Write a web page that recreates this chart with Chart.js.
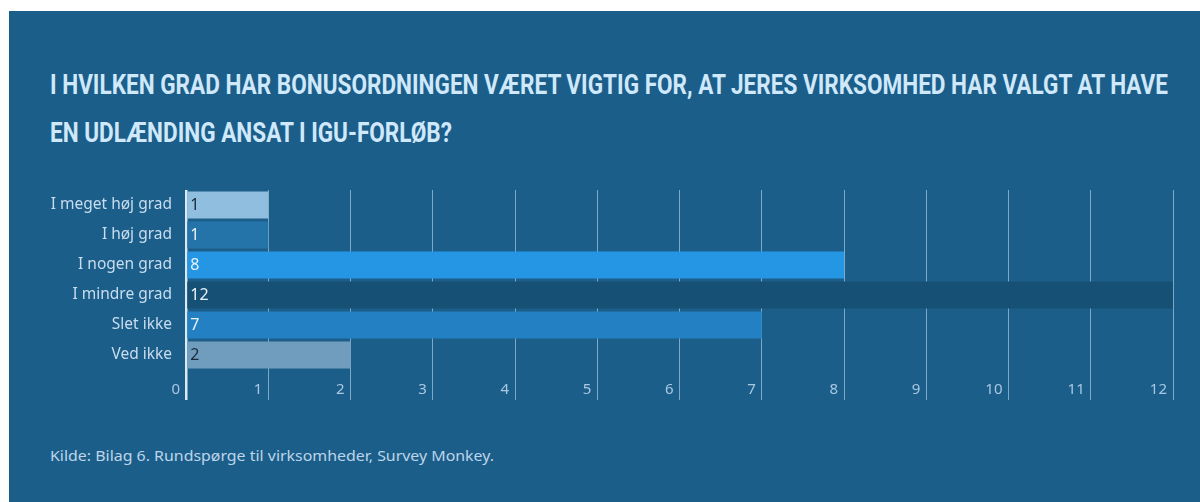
<!DOCTYPE html>
<html>
<head>
<meta charset="utf-8">
<script src="https://cdn.jsdelivr.net/npm/chart.js@4.4.1/dist/chart.umd.min.js"></script>
<style>
  html, body { margin: 0; padding: 0; background: #ffffff; width: 1200px; height: 502px; overflow: hidden; }
  #panel { position: absolute; left: 9px; top: 11px; width: 1191px; height: 491px; background: #1c5e8a; }
  .title { position: absolute; left: 50px; color: #cfe8fa; font-family: "Liberation Sans Narrow", "Roboto", sans-serif; font-weight: bold; font-size: 28px; white-space: nowrap; transform-origin: 0 0; line-height: 1; }
  #t1 { top: 71px; }
  #t2 { top: 119px; }
  #src { position: absolute; left: 50px; top: 445px; color: #bcd5e9; font-family: "Noto Sans", sans-serif; font-size: 15px; white-space: nowrap; transform-origin: 0 0; }
  #wrap { position: absolute; left: 9px; top: 185px; width: 1191px; height: 215px; }
</style>
</head>
<body>
<div id="panel"></div>
<div class="title" id="t1">I HVILKEN GRAD HAR BONUSORDNINGEN VÆRET VIGTIG FOR, AT JERES VIRKSOMHED HAR VALGT AT HAVE</div>
<div class="title" id="t2">EN UDLÆNDING ANSAT I IGU-FORLØB?</div>
<div id="src">Kilde: Bilag 6. Rundspørge til virksomheder, Survey Monkey.</div>
<div id="wrap"><canvas id="c" width="1191" height="215"></canvas></div>
<script>
const categories = ["I meget høj grad", "I høj grad", "I nogen grad", "I mindre grad", "Slet ikke", "Ved ikke"];
const values = [1, 1, 8, 12, 7, 2];
const barColors = ["#8fbedf", "#2474aa", "#2596e4", "#175075", "#2380c2", "#709dbe"];
const valueLabelColors = ["#1b2a38", "#e8f2fa", "#e8f2fa", "#e8f2fa", "#e8f2fa", "#1b2a38"];
const xTicks = [0, 1, 2, 3, 4, 5, 6, 7, 8, 9, 10, 11, 12];

(function () {
  const t1 = document.getElementById('t1');
  const t2 = document.getElementById('t2');
  const w = t1.getBoundingClientRect().width;
  const s = 1118 / w;
  t1.style.transform = 'scaleX(' + s + ')';
  t2.style.transform = 'scaleX(' + s + ')';
  const src = document.getElementById('src');
  const ws = src.getBoundingClientRect().width;
  src.style.transform = 'scaleX(' + (444 / ws) + ')';
})();

const valueLabels = {
  id: 'valueLabels',
  afterDatasetsDraw(chart) {
    const ctx = chart.ctx;
    const meta = chart.getDatasetMeta(0);
    ctx.save();
    ctx.font = '16px "Noto Sans", sans-serif';
    ctx.textAlign = 'left';
    ctx.textBaseline = 'middle';
    meta.data.forEach((bar, i) => {
      ctx.fillStyle = valueLabelColors[i];
      ctx.fillText(String(values[i]), bar.base + 3, bar.y);
    });
    ctx.restore();
  }
};

new Chart(document.getElementById('c'), {
  type: 'bar',
  data: {
    labels: categories,
    datasets: [{
      data: values,
      backgroundColor: barColors,
      borderWidth: 0,
      barPercentage: 0.9,
      categoryPercentage: 1.0
    }]
  },
  options: {
    indexAxis: 'y',
    responsive: false,
    animation: false,
    events: [],
    layout: { padding: { top: 5, right: 27, bottom: 0, left: 0 } },
    plugins: { legend: { display: false }, tooltip: { enabled: false }, title: { display: false } },
    scales: {
      x: {
        min: 0, max: 12,
        afterBuildTicks(scale) { scale.ticks = xTicks.map(v => ({ value: v })); },
        afterFit(scale) { scale.height = 30; scale.paddingLeft = 0; scale.paddingRight = 0; },
        border: { display: false },
        grid: {
          color: (c) => c.index === 0 ? '#dbe9f5' : '#7ea8c8',
          lineWidth: (c) => c.index === 0 ? 2.5 : 1,
          drawTicks: true,
          tickLength: 30,
          tickColor: (c) => c.index === 0 ? '#dbe9f5' : '#7ea8c8',
          tickWidth: (c) => c.index === 0 ? 2.5 : 1
        },
        ticks: {
          color: '#a9c8e0',
          font: { family: 'Noto Sans', size: 15 },
          align: 'end',
          labelOffset: -6,
          padding: -19,
          maxRotation: 0,
          autoSkip: false
        }
      },
      y: {
        afterFit(scale) { scale.width = 177; scale.paddingTop = 0; scale.paddingBottom = 0; },
        border: { display: false },
        grid: { display: false, drawTicks: false },
        ticks: {
          color: '#c8ddee',
          font: { family: 'Noto Sans', size: 15.5 },
          padding: 14
        }
      }
    }
  },
  plugins: [valueLabels]
});
</script>
</body>
</html>
